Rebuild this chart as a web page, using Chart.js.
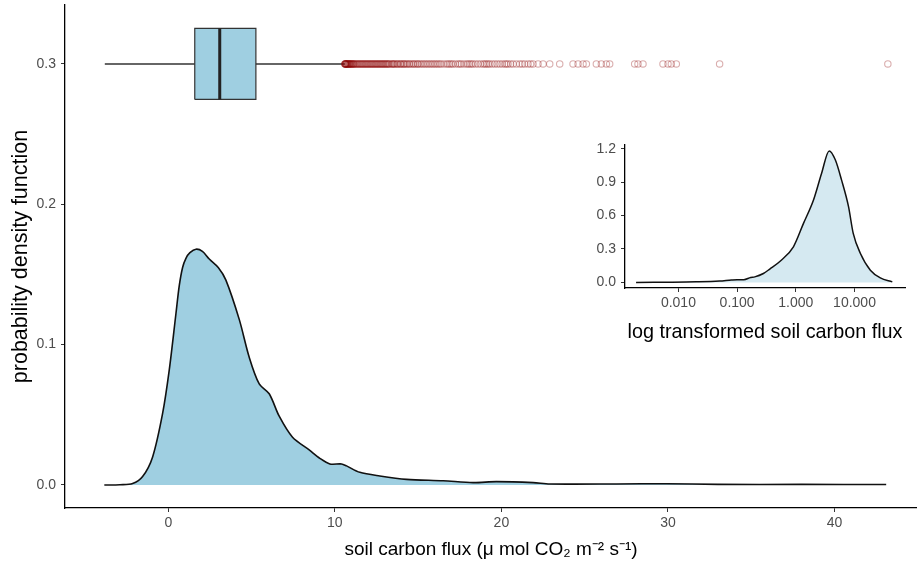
<!DOCTYPE html>
<html>
<head>
<meta charset="utf-8">
<script src="https://cdn.jsdelivr.net/npm/chart.js@4.4.0/dist/chart.umd.min.js"></script>
<style>
html, body { margin: 0; padding: 0; background: #fff; }
#wrap { position: relative; width: 917px; height: 564px; }
#wrap canvas { position: absolute; left: 0; top: 0; }
</style>
</head>
<body>
<div id="wrap">
  <canvas id="main" width="917" height="564"></canvas>
  <canvas id="inset" width="917" height="564"></canvas>
</div>
<script>
// density of soil carbon flux (main panel)
const fluxX = [-3.84, -2.9, -2.14, -1.54, -0.94, -0.34, 0.06, 0.46, 0.66, 0.86, 1.06, 1.3, 1.66, 2.05, 2.46, 3.0, 3.46, 4.26, 4.86, 5.46,
    6.06, 6.66, 7.46, 8.46, 9.1, 9.7, 10.4, 10.7, 11.5, 12.7, 14.3, 16.5, 18.3, 19.7, 21.9, 22.9, 26.9, 29.9, 33, 38, 43.1];
const fluxDensity = [0, 0.0002, 0.001, 0.006, 0.020, 0.051, 0.082, 0.122, 0.142, 0.155, 0.1615, 0.1655, 0.168, 0.1665, 0.161, 0.155, 0.146, 0.118, 0.091, 0.072,
    0.065, 0.049, 0.034, 0.025, 0.019, 0.015, 0.015, 0.0136, 0.009, 0.0064, 0.004, 0.003, 0.0017, 0.0024, 0.0017, 0.0007, 0.0007, 0.0009, 0.0004, 0.0004, 0.0003];

// boxplot summary
const boxLevel = 0.3;
const quartiles = [1.59, 3.09, 5.26];   // q1, median, q3
const whiskerEnds = [-3.81, 10.6];
const outliers = [10.6, 10.61, 10.62, 10.64, 10.65, 10.67, 10.68, 10.7, 10.72, 10.75, 10.78, 10.8, 10.83, 10.85, 10.88,
    10.9, 10.93, 10.95, 11.0, 11.02, 11.05, 11.1, 11.12, 11.15, 11.2, 11.25, 11.3, 11.35, 11.4, 11.45, 11.5, 11.55, 11.6,
    11.65, 11.7, 11.75, 11.8, 11.85, 11.9, 11.95, 12.0, 12.05, 12.1, 12.15, 12.2, 12.25, 12.3, 12.35, 12.4, 12.45, 12.5,
    12.55, 12.6, 12.65, 12.7, 12.75, 12.8, 12.85, 12.9, 12.95, 13.0, 13.05, 13.1, 13.15, 13.2, 13.25, 13.3, 13.4, 13.45,
    13.5, 13.55, 13.6, 13.7, 13.75, 13.8, 13.9, 13.95, 14.0, 14.1, 14.15, 14.2, 14.3, 14.35, 14.45, 14.5, 14.6, 14.7,
    14.75, 14.85, 14.95, 15.0, 15.1, 15.2, 15.3, 15.4, 15.5, 15.6, 15.7, 15.8, 15.9, 16.0, 16.1, 16.2, 16.3, 16.4, 16.55,
    16.7, 16.8, 16.9, 17.0, 17.1, 17.25, 17.4, 17.5, 17.6, 17.75, 17.9, 18.0, 18.1, 18.2, 18.3, 18.45, 18.6, 18.75, 18.9,
    19.0, 19.1, 19.2, 19.3, 19.45, 19.6, 19.75, 19.9, 20.05, 20.2, 20.3, 20.4, 20.55, 20.7, 20.9, 21.1, 21.25, 21.4,
    21.6, 21.75, 21.9, 22.2, 22.5, 22.9, 23.5, 24.3, 24.6, 24.9, 25.1, 25.7, 26.0, 26.3, 26.5, 28.0, 28.2, 28.5, 29.7,
    30.0, 30.2, 30.5, 33.1, 43.2];

// density on log scale (inset)
const logFluxX = [0.0019, 0.005, 0.02, 0.05, 0.08, 0.1, 0.13, 0.17, 0.2, 0.28, 0.36, 0.54, 0.91, 1.35, 2.0, 2.75, 3.7,
    4.7, 6.0, 7.9, 9.5, 12.6, 18.6, 27.5, 44];
const logDensity = [0.0, 0.002, 0.005, 0.012, 0.022, 0.025, 0.025, 0.045, 0.05, 0.08, 0.12, 0.19, 0.32, 0.53, 0.74, 0.98, 1.18,
    1.10, 0.92, 0.68, 0.44, 0.26, 0.11, 0.04, 0.005];

const xTicks = [0, 10, 20, 30, 40];
const yTicks = [0, 0.1, 0.2, 0.3];
const insetXTicks = [0.01, 0.1, 1, 10];
const insetYTicks = [0, 0.3, 0.6, 0.9, 1.2];

Chart.defaults.font.family = "'Liberation Sans', Arial, sans-serif";
Chart.defaults.color = '#4d4d4d';

function pts(xs, ys) {
    return xs.map(function (x, i) { return {x: x, y: ys[i]}; });
}

// fixed axis boxes so the plot area sits where the reference has it
function fixBox(size) {
    return function (s) {
        if (s.isHorizontal()) { s.height = size; } else { s.width = size; }
        s.paddingTop = 0; s.paddingBottom = 0; s.paddingLeft = 0; s.paddingRight = 0;
    };
}

const boxHalf = 0.0253;
const boxLo = boxLevel - boxHalf;
const boxHi = boxLevel + boxHalf;

const lineSet = function (data, color, width, order) {
    return {type: 'line', data: data, borderColor: color, borderWidth: width, pointRadius: 0,
        fill: false, tension: 0, order: order};
};

new Chart(document.getElementById('main'), {
    type: 'scatter',
    data: {
        datasets: [
            {
                type: 'line',
                data: pts(fluxX, fluxDensity),
                borderColor: '#111',
                borderWidth: 1.6,
                backgroundColor: '#9fcfe1',
                fill: 'origin',
                pointRadius: 0,
                tension: 0.3,
                order: 10
            },
            {
                type: 'line',
                data: [{x: quartiles[0], y: boxHi}, {x: quartiles[2], y: boxHi}],
                borderWidth: 0,
                backgroundColor: '#9fcfe1',
                fill: {value: boxLo},
                pointRadius: 0,
                order: 9
            },
            lineSet([{x: quartiles[0], y: boxLo}, {x: quartiles[2], y: boxLo}, {x: quartiles[2], y: boxHi},
                {x: quartiles[0], y: boxHi}, {x: quartiles[0], y: boxLo}], '#333', 1.2, 8),
            lineSet([{x: whiskerEnds[0], y: boxLevel}, {x: quartiles[0], y: boxLevel}], '#333', 1.4, 7),
            lineSet([{x: quartiles[2], y: boxLevel}, {x: whiskerEnds[1], y: boxLevel}], '#333', 1.4, 7),
            lineSet([{x: quartiles[1], y: boxLo}, {x: quartiles[1], y: boxHi}], '#222', 3, 6),
            {
                data: outliers.map(function (v) { return {x: v, y: boxLevel}; }),
                pointRadius: 3.2,
                pointBorderWidth: 1.1,
                pointBackgroundColor: 'rgba(0,0,0,0)',
                pointBorderColor: 'rgba(139,0,0,0.32)',
                order: 5
            }
        ]
    },
    options: {
        responsive: false,
        animation: false,
        layout: {autoPadding: false, padding: {top: 5, right: 0, left: 0, bottom: 0}},
        plugins: {legend: {display: false}, tooltip: {enabled: false}},
        scales: {
            x: {
                type: 'linear',
                min: -6.2,
                max: 44.95,
                afterBuildTicks: function (s) { s.ticks = xTicks.map(function (v) { return {value: v}; }); },
                afterFit: fixBox(56),
                ticks: {font: {size: 14}, color: '#4d4d4d', padding: 3, maxRotation: 0},
                grid: {drawOnChartArea: false, tickLength: 4, color: '#333'},
                border: {display: true, color: '#000', width: 1.3},
                title: {display: true, text: 'soil carbon flux (\u03bc mol CO\u2082 m\u207b\u00b2 s\u207b\u00b9)',
                    font: {size: 19}, color: '#000', padding: {top: 0, bottom: 3}}
            },
            y: {
                min: -0.0164,
                max: 0.342,
                afterBuildTicks: function (s) { s.ticks = yTicks.map(function (v) { return {value: v}; }); },
                afterFit: fixBox(65),
                ticks: {font: {size: 14}, color: '#4d4d4d', padding: 5,
                    callback: function (v) { return v.toFixed(1); }},
                grid: {drawOnChartArea: false, tickLength: 4, color: '#333'},
                border: {display: true, color: '#000', width: 1.3},
                title: {display: true, text: 'probability density function', font: {size: 21.5}, color: '#000',
                    padding: {top: 8, bottom: 0}}
            }
        }
    }
});

new Chart(document.getElementById('inset'), {
    type: 'scatter',
    data: {
        datasets: [{
            type: 'line',
            data: pts(logFluxX, logDensity),
            borderColor: '#111',
            borderWidth: 1.5,
            backgroundColor: '#d5e9f1',
            fill: 'origin',
            pointRadius: 0,
            cubicInterpolationMode: 'monotone'
        }]
    },
    options: {
        responsive: false,
        animation: false,
        layout: {autoPadding: false, padding: {top: 145, right: 12, left: 575, bottom: 216}},
        plugins: {legend: {display: false}, tooltip: {enabled: false}},
        scales: {
            x: {
                type: 'logarithmic',
                min: 0.00123,
                max: 72.4,
                afterBuildTicks: function (s) { s.ticks = insetXTicks.map(function (v) { return {value: v}; }); },
                afterFit: fixBox(60),
                ticks: {font: {size: 14}, color: '#4d4d4d', padding: 3, maxRotation: 0,
                    callback: function (v) { return Number(v).toFixed(3); }},
                grid: {drawOnChartArea: false, tickLength: 4, color: '#333'},
                border: {display: true, color: '#000', width: 1.3},
                title: {display: true, text: 'log transformed soil carbon flux', font: {size: 19.8}, color: '#000',
                    padding: {top: 0, bottom: 4}}
            },
            y: {
                min: -0.05,
                max: 1.233,
                afterBuildTicks: function (s) { s.ticks = insetYTicks.map(function (v) { return {value: v}; }); },
                afterFit: fixBox(50),
                ticks: {font: {size: 14}, color: '#4d4d4d', padding: 5,
                    callback: function (v) { return v.toFixed(1); }},
                grid: {drawOnChartArea: false, tickLength: 4, color: '#333'},
                border: {display: true, color: '#000', width: 1.3}
            }
        }
    }
});
</script>
</body>
</html>
